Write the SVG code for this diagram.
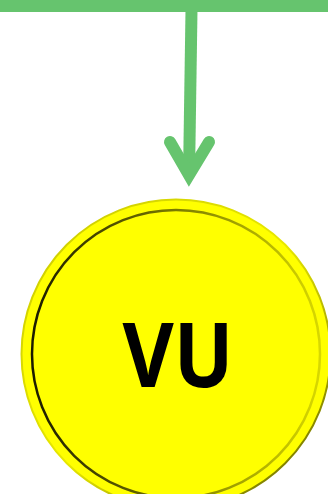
<svg xmlns="http://www.w3.org/2000/svg" width="328" height="494" viewBox="0 0 328 494">
<defs>
<style>
.conn{fill:none;stroke:#66c46e;stroke-width:12}
.lbl{font-family:"Open Sans","Liberation Sans",sans-serif;font-weight:700;fill:#000}
</style>
<linearGradient id="rim" x1="0" y1="0" x2="1" y2="1">
<stop offset="0" stop-color="#c8c800"/>
<stop offset="0.5" stop-color="#e8e800"/>
<stop offset="1" stop-color="#5a5a00"/>
</linearGradient>
<linearGradient id="inner" x1="0" y1="0" x2="1" y2="0">
<stop offset="0" stop-color="#1a1a00"/>
<stop offset="0.5" stop-color="#7a7a00"/>
<stop offset="1" stop-color="#d8d800"/>
</linearGradient>
</defs>
<g id="connectors">
<rect x="0" y="0" width="328" height="12" fill="#66c46e"/>
<line class="conn" x1="191.5" y1="10" x2="189" y2="176"/>
<polyline class="conn" points="170,142 189,175 209,142" stroke-linecap="round" stroke-linejoin="miter" stroke-miterlimit="10"/>
</g>
<g id="node-vu">
<circle cx="176" cy="354" r="154.5" fill="#ffff00" stroke="url(#rim)" stroke-width="2"/>
<circle cx="176" cy="354" r="144" fill="#ffff00" stroke="url(#inner)" stroke-width="2.5"/>
<text class="lbl" x="178" y="387" font-size="89" text-anchor="middle" textLength="111" lengthAdjust="spacingAndGlyphs">VU</text>
</g>
</svg>
